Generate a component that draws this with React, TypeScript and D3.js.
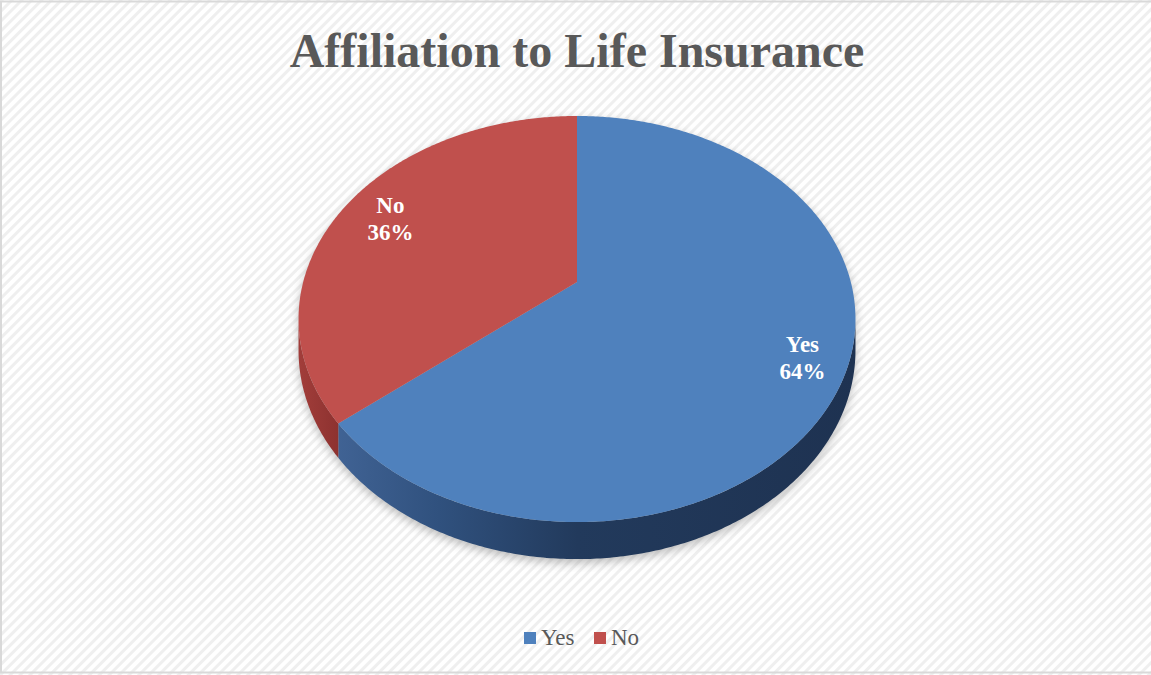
import React from "react";
import * as d3 from "d3";

const title = "Affiliation to Life Insurance";
const categories = ["Yes", "No"];
const values = [64, 36];
const topColors = ["#4f81bd", "#c0504d"];

const W = 1151;
const H = 675;
// perspective ellipse parameters
const CX = 577;
const CY = 282;
const A = 273.8;
const B = 196.3;
const K = 0.1823;
const D0 = 30.3;

function proj(phi: number, f = 1, down = 0): [number, number] {
  const u = f * Math.sin(phi);
  const v = f * Math.cos(phi);
  const w = 1 + K * v;
  return [CX + (A * u) / w, CY - (B * v) / w + (down * D0) / w];
}

function sample(a0: number, a1: number, down: number): [number, number][] {
  const n = Math.max(2, Math.ceil(Math.abs(a1 - a0) / 0.01));
  const pts: [number, number][] = [];
  for (let i = 0; i <= n; i++) pts.push(proj(a0 + ((a1 - a0) * i) / n, 1, down));
  return pts;
}

function topPath(a0: number, a1: number): string {
  const p = d3.path();
  p.moveTo(CX, CY);
  sample(a0, a1, 0).forEach(([x, y]) => p.lineTo(x, y));
  p.closePath();
  return p.toString();
}

const VIS0 = Math.acos(-K);
const VIS1 = 2 * Math.PI - VIS0;

function sidePath(a0: number, a1: number): string | null {
  const s = Math.max(a0, VIS0);
  const e = Math.min(a1, VIS1);
  if (e <= s) return null;
  const p = d3.path();
  const top = sample(s, e, 0);
  const bot = sample(s, e, 1).reverse();
  top.forEach(([x, y], i) => (i === 0 ? p.moveTo(x, y) : p.lineTo(x, y)));
  bot.forEach(([x, y]) => p.lineTo(x, y));
  p.closePath();
  return p.toString();
}

function fullShape(down: number): string {
  const p = d3.path();
  sample(0, 2 * Math.PI, down).forEach(([x, y], i) => (i === 0 ? p.moveTo(x, y) : p.lineTo(x, y)));
  p.closePath();
  return p.toString();
}

export default function App() {
  const pie = d3.pie<number>().sort(null).startAngle(0).endAngle(2 * Math.PI);
  const arcs = pie(values);
  const total = d3.sum(values);
  const fmt = d3.format(".0%");
  const labelFrac = [0.85, 0.8];

  return (
    <svg
      width={W}
      height={H}
      style={{ position: "absolute", left: 0, top: 0, display: "block" }}
      fontFamily="'Liberation Serif', 'Times New Roman', serif"
    >
      <defs>
        <pattern id="bgp" width="7" height="7" patternUnits="userSpaceOnUse" patternTransform="rotate(45)">
          <rect width="7" height="7" fill="#ffffff" />
          <rect width="3" height="7" fill="#efefef" />
        </pattern>
        <filter id="blur" x="-20%" y="-20%" width="140%" height="140%">
          <feGaussianBlur stdDeviation="5" />
        </filter>
        <linearGradient id="sideBlue" gradientUnits="userSpaceOnUse" x1="300" y1="0" x2="856" y2="0">
          <stop offset="0%" stopColor="#46699c" />
          <stop offset="25%" stopColor="#30517e" />
          <stop offset="50%" stopColor="#223a5c" />
          <stop offset="100%" stopColor="#1e3251" />
        </linearGradient>
        <linearGradient id="sideRed" gradientUnits="userSpaceOnUse" x1="300" y1="0" x2="345" y2="0">
          <stop offset="0%" stopColor="#a13d3a" />
          <stop offset="100%" stopColor="#8a302e" />
        </linearGradient>
      </defs>
      <rect x={0} y={0} width={W} height={H} fill="url(#bgp)" />
      <rect x={1} y={1.5} width={W + 2} height={671} fill="none" stroke="#d9d9d9" strokeWidth={2} />

      <text
        x={577}
        y={67}
        textAnchor="middle"
        fontSize={48}
        fontWeight="bold"
        fill="#595959"
      >
        {title}
      </text>

      {/* shadow */}
      <g filter="url(#blur)" opacity={0.5} transform="translate(0,4)">
        <path d={fullShape(0)} fill="#7f7f7f" />
        <path d={fullShape(1)} fill="#7f7f7f" />
      </g>

      {/* sides */}
      {arcs.map((a, i) => {
        const d = sidePath(a.startAngle, a.endAngle);
        return d ? (
          <path key={"s" + i} d={d} fill={i === 0 ? "url(#sideBlue)" : "url(#sideRed)"} />
        ) : null;
      })}

      {/* tops */}
      {arcs.map((a, i) => (
        <path key={"t" + i} d={topPath(a.startAngle, a.endAngle)} fill={topColors[i]} />
      ))}

      {/* labels */}
      {arcs.map((a, i) => {
        const mid = (a.startAngle + a.endAngle) / 2;
        const [x, y] = proj(mid, labelFrac[i], 0);
        return (
          <text
            key={"l" + i}
            x={x}
            textAnchor="middle"
            fontSize={23}
            fontWeight="bold"
            fill="#ffffff"
          >
            <tspan x={x} y={y - 6}>{categories[i]}</tspan>
            <tspan x={x} y={y + 21}>{fmt(values[i] / total)}</tspan>
          </text>
        );
      })}

      {/* legend */}
      {categories.map((c, i) => {
        const x0 = i === 0 ? 524 : 594;
        return (
          <g key={"g" + i}>
            <rect x={x0} y={632} width={12} height={12} fill={topColors[i]} />
            <text x={x0 + 17} y={645} fontSize={23} fill="#595959">
              {c}
            </text>
          </g>
        );
      })}
    </svg>
  );
}
